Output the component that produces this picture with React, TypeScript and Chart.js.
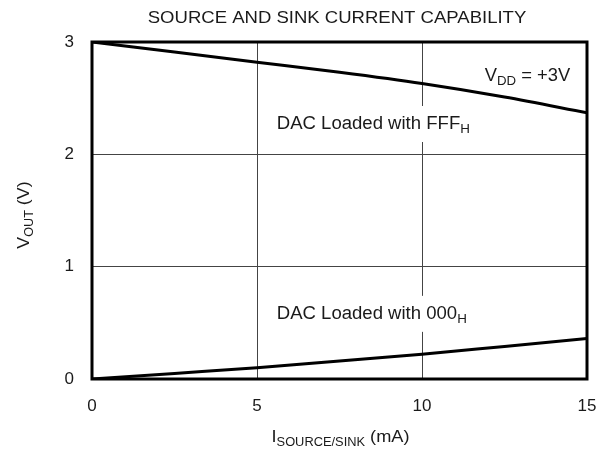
import React, { useEffect, useRef } from "react";
import { Chart, registerables } from "chart.js";

Chart.register(...registerables);

const current = [0, 2.5, 5, 7.5, 10, 12.5, 15];
const voutFFF = [3.0, 2.91, 2.82, 2.73, 2.63, 2.51, 2.37];
const vout000 = [0, 0.05, 0.1, 0.16, 0.22, 0.29, 0.36];
const xTicks = [0, 5, 10, 15];
const yTicks = [0, 1, 2, 3];

const chartTitle = "SOURCE AND SINK CURRENT CAPABILITY";
const FONT = "'Liberation Sans', Arial, sans-serif";
const INK = "#1a1a1a";

type Part = { t: string; sub?: boolean };

function drawRich(ctx: CanvasRenderingContext2D, parts: Part[], x: number, y: number, size: number, subSize: number, align: "left" | "center", sx = 1) {
  ctx.save();
  ctx.translate(x, y);
  ctx.scale(sx, 1);
  ctx.textBaseline = "middle";
  ctx.textAlign = "left";
  let total = 0;
  const widths = parts.map((p) => {
    ctx.font = `${p.sub ? subSize : size}px ${FONT}`;
    const w = ctx.measureText(p.t).width;
    total += w;
    return w;
  });
  let cx = align === "center" ? -total / 2 : 0;
  parts.forEach((p, i) => {
    ctx.font = `${p.sub ? subSize : size}px ${FONT}`;
    ctx.fillStyle = INK;
    ctx.fillText(p.t, cx, p.sub ? size * 0.32 : 0);
    cx += widths[i];
  });
  ctx.restore();
  return total * sx;
}

const annotPlugin = {
  id: "annot",
  beforeDatasetsDraw(chart: any) {
    const ctx = chart.ctx as CanvasRenderingContext2D;
    const xs = chart.scales.x;
    const ys = chart.scales.y;
    const labels: { parts: Part[]; x: number; y: number }[] = [
      { parts: [{ t: "DAC Loaded with FFF" }, { t: "H", sub: true }], x: xs.getPixelForValue(5.6), y: ys.getPixelForValue(2.27) },
      { parts: [{ t: "DAC Loaded with 000" }, { t: "H", sub: true }], x: xs.getPixelForValue(5.6), y: ys.getPixelForValue(0.58) },
    ];
    labels.forEach((l) => {
      ctx.save();
      ctx.font = `18px ${FONT}`;
      const w = ctx.measureText(l.parts[0].t).width + 14;
      ctx.fillStyle = "#fff";
      ctx.fillRect(l.x - 4, l.y - 18, w + 8, 36);
      ctx.restore();
      drawRich(ctx, l.parts, l.x, l.y, 18, 13, "left", 1.03);
    });
    drawRich(ctx, [{ t: "V" }, { t: "DD", sub: true }, { t: " = +3V" }], xs.getPixelForValue(11.9), ys.getPixelForValue(2.7), 18, 13, "left", 1.02);
  },
  afterDraw(chart: any) {
    const ctx = chart.ctx as CanvasRenderingContext2D;
    const a = chart.chartArea;
    ctx.save();
    ctx.strokeStyle = "#000";
    ctx.lineWidth = 3;
    ctx.strokeRect(a.left, a.top, a.right - a.left, a.bottom - a.top);
    ctx.restore();
    drawRich(ctx, [{ t: chartTitle }], 337, 18, 17, 12, "center", 1.09);
    drawRich(ctx, [{ t: "I" }, { t: "SOURCE/SINK", sub: true }, { t: " (mA)" }], (a.left + a.right) / 2 + 1, 437, 17, 12, "center", 1.07);
    ctx.save();
    ctx.translate(24, 215);
    ctx.rotate(-Math.PI / 2);
    drawRich(ctx, [{ t: "V" }, { t: "OUT", sub: true }, { t: " (V)" }], 0, 0, 17, 12, "center", 1.05);
    ctx.restore();
  },
};

export default function App() {
  const ref = useRef<HTMLCanvasElement>(null);
  useEffect(() => {
    if (!ref.current) return;
    const chart = new Chart(ref.current, {
      type: "line",
      data: {
        datasets: [
          {
            label: "FFF",
            data: current.map((c, i) => ({ x: c, y: voutFFF[i] })),
            borderColor: "#000",
            borderWidth: 3,
            pointRadius: 0,
            cubicInterpolationMode: "monotone",
          },
          {
            label: "000",
            data: current.map((c, i) => ({ x: c, y: vout000[i] })),
            borderColor: "#000",
            borderWidth: 3,
            pointRadius: 0,
            cubicInterpolationMode: "monotone",
          },
        ],
      },
      options: {
        responsive: false,
        animation: false,
        devicePixelRatio: 1,
        layout: { padding: { left: 0, right: 20, top: 42, bottom: 0 } },
        plugins: { legend: { display: false }, tooltip: { enabled: false }, title: { display: false } },
        scales: {
          x: {
            type: "linear",
            min: 0,
            max: 15,
            afterBuildTicks: (s: any) => {
              s.ticks = xTicks.map((v) => ({ value: v }));
            },
            afterFit: (s: any) => {
              s.height = 73;
              s.paddingLeft = 0;
              s.paddingRight = 0;
            },
            grid: { color: "#444", lineWidth: 1, drawTicks: false },
            border: { display: false },
            ticks: { color: INK, font: { size: 17, family: FONT }, padding: 17, maxRotation: 0 },
          },
          y: {
            type: "linear",
            min: 0,
            max: 3,
            afterBuildTicks: (s: any) => {
              s.ticks = yTicks.map((v) => ({ value: v }));
            },
            afterFit: (s: any) => {
              s.width = 92;
              s.paddingTop = 0;
              s.paddingBottom = 0;
            },
            grid: { color: "#444", lineWidth: 1, drawTicks: false },
            border: { display: false },
            ticks: { color: INK, font: { size: 17, family: FONT }, padding: 18 },
          },
        },
      },
      plugins: [annotPlugin],
    } as any);
    return () => chart.destroy();
  }, []);
  return (
    <div style={{ position: "absolute", left: 0, top: 0, width: 607, height: 452, background: "#fff" }}>
      <canvas ref={ref} width={607} height={452} />
    </div>
  );
}
